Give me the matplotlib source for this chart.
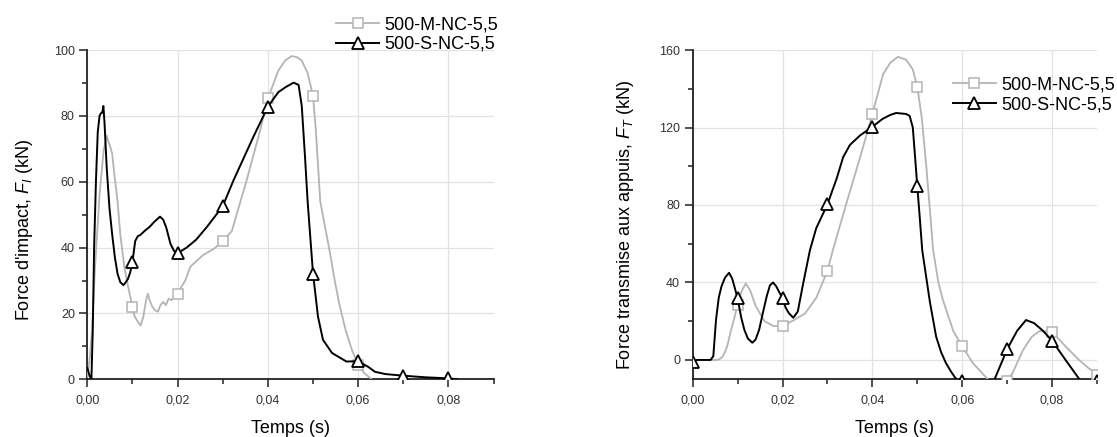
import numpy as np
import matplotlib
matplotlib.use('Agg')
from matplotlib import pyplot as plt
from matplotlib.ticker import MultipleLocator, FuncFormatter

plt.rcParams['font.family'] = ['Liberation Sans', 'DejaVu Sans']
plt.rcParams['mathtext.fontset'] = 'custom'
plt.rcParams['mathtext.rm'] = 'Liberation Sans'
plt.rcParams['mathtext.it'] = 'Liberation Sans:italic'

#%% Data
labels = ['500-M-NC-5,5', '500-S-NC-5,5']

# Force d'impact, 500-M-NC-5,5
t_imp_m = [0, 0.0005, 0.001, 0.0017, 0.0027, 0.0036, 0.0043, 0.0047, 0.005, 0.0055, 0.006, 0.0067,
           0.0073, 0.0082, 0.0092, 0.01, 0.0105, 0.0112, 0.0118, 0.0124, 0.013, 0.0134, 0.0138, 0.0144,
           0.015, 0.0156, 0.0162, 0.0168, 0.0174, 0.018, 0.0186, 0.0192, 0.02, 0.0208, 0.0217, 0.0228,
           0.0257, 0.0281, 0.03, 0.032, 0.0353, 0.0383, 0.04, 0.0423, 0.0438, 0.0453, 0.0465, 0.0475,
           0.0488, 0.05, 0.0506, 0.0516, 0.0527, 0.0538, 0.0548, 0.0558, 0.0572, 0.0586, 0.06, 0.0614,
           0.063]
f_imp_m = [0.8, 6, 14, 34, 56, 69.5, 74, 72, 71, 68.5, 62, 54,
           44, 34, 27, 22, 19, 17.5, 16.3, 19, 24, 26, 24, 22,
           21, 20.5, 22.5, 23.5, 22.5, 24.5, 24, 25, 26, 28, 30, 34.2,
           37.8, 39.7, 42, 45, 60.5, 75.7, 85.3, 93.7, 96.8, 98.2, 97.8, 96.8,
           93, 86, 76, 54, 46, 38, 30, 23, 15, 9, 4.3, 1.8,
           0]
mk_imp_m = [0.01, 0.02, 0.03, 0.04, 0.05, 0.06]

# Force d'impact, 500-S-NC-5,5
t_imp_s = [0, 0.0005, 0.0009, 0.0012, 0.0015, 0.0019, 0.0023, 0.0027, 0.003, 0.0033, 0.00355, 0.0038,
           0.0043, 0.0049, 0.0055, 0.0061, 0.0067, 0.0073, 0.008, 0.0085, 0.009, 0.0095, 0.01, 0.0106,
           0.0112, 0.0117, 0.0128, 0.0138, 0.0148, 0.0161, 0.0168, 0.0175, 0.0184, 0.0192, 0.02, 0.022,
           0.0241, 0.0265, 0.03, 0.0324, 0.0368, 0.04, 0.0423, 0.044, 0.0457, 0.0468, 0.0475, 0.0482,
           0.0488, 0.05, 0.0511, 0.0522, 0.0542, 0.0574, 0.06, 0.0622, 0.0637, 0.066, 0.07, 0.075,
           0.08, 0.082]
f_imp_s = [3.5, 1.0, 0.2, 15, 40, 60, 75, 80, 80.8, 81, 83, 78,
           64, 52, 44, 37, 32, 29.5, 28.6, 29.5, 30.5, 32.5, 35.7, 42,
           43.5, 43.8, 45.2, 46.3, 47.8, 49.4, 48.5, 46, 41.2, 39, 38.3, 40,
           42.4, 46.3, 52.6, 60.5, 73.7, 82.8, 87.2, 88.8, 90.1, 89.4, 83, 68,
           54, 32, 19, 12, 8, 5.4, 5.5, 3.8, 2.3, 1.6, 1.1, 0.6,
           0.3, 0]
mk_imp_s = [0.01, 0.02, 0.03, 0.04, 0.05, 0.06, 0.07, 0.08]

# Force transmise, 500-M-NC-5,5
t_tr_m = [0, 0.003, 0.0056, 0.006, 0.0066, 0.0072, 0.0078, 0.0085, 0.0092, 0.01, 0.0108, 0.0118,
          0.0128, 0.014, 0.016, 0.018, 0.02, 0.0225, 0.025, 0.0275, 0.03, 0.0312, 0.0342, 0.0372,
          0.04, 0.0424, 0.044, 0.0457, 0.0475, 0.049, 0.05, 0.051, 0.052, 0.053, 0.0535, 0.0547,
          0.0557, 0.058, 0.06, 0.0624, 0.0645, 0.0657, 0.067, 0.07, 0.0712, 0.0735, 0.0755, 0.0772,
          0.08, 0.083, 0.086, 0.088, 0.0898, 0.09]
f_tr_m = [0, 0, 0, 0.5, 1.5, 4, 8, 15, 21, 28.4, 35, 39.5,
          36, 28, 20, 17.5, 17.5, 20.5, 24, 32, 46, 56.6, 80.7, 104,
          127, 147.6, 153.5, 156.5, 155, 150, 141, 125, 100, 72, 57, 40,
          31, 15, 7, -1.7, -7, -10, -12, -11, -6.8, 5, 12, 14.9,
          14.6, 7, 0, -4, -6.8, -7.7]
mk_tr_m = [0.01, 0.02, 0.03, 0.04, 0.05, 0.06, 0.07, 0.08, 0.09]

# Force transmise, 500-S-NC-5,5
t_tr_s = [0, 0.001, 0.0025, 0.004, 0.0046, 0.0052, 0.0058, 0.0064, 0.0072, 0.0081, 0.0088, 0.0094,
          0.01, 0.0108, 0.0115, 0.0123, 0.0133, 0.014, 0.0148, 0.0156, 0.0165, 0.0172, 0.0179, 0.0186,
          0.02, 0.0207, 0.0214, 0.0224, 0.0234, 0.0246, 0.0261, 0.0275, 0.03, 0.0321, 0.0335, 0.035,
          0.0372, 0.04, 0.0423, 0.044, 0.0453, 0.0475, 0.0483, 0.049, 0.0495, 0.05, 0.0505, 0.0511,
          0.0528, 0.0542, 0.0553, 0.0564, 0.0575, 0.0587, 0.06, 0.063, 0.066, 0.0672, 0.07, 0.0722,
          0.0742, 0.076, 0.078, 0.08, 0.083, 0.0861, 0.088, 0.09]
f_tr_s = [-1, 0, 0, 0, 2, 20.7, 32, 37.9, 42.5, 45, 42, 37,
          31.8, 22, 15.6, 11, 8.9, 10.5, 15.6, 24, 33, 38.5, 40, 38,
          31.8, 27, 24.2, 21.8, 25, 39.5, 56.6, 68, 80.3, 94, 104.7, 111,
          115.8, 120.4, 124.5, 126.5, 127.5, 127, 126, 120, 105, 89.6, 75, 56.6,
          30, 12, 4, -1.7, -6, -10, -11, -14, -14, -10, 5.5, 15,
          20.6, 19, 15, 9.9, 0, -10, -13, -11]
mk_tr_s = [0.0, 0.01, 0.02, 0.03, 0.04, 0.05, 0.06, 0.07, 0.08, 0.09]

#%% Plot
grey = '#b4b4b4'
fig = plt.figure(figsize=(11.17, 4.37), dpi=100)
ax1 = fig.add_axes([0.0782, 0.1320, 0.3637, 0.7535])
ax2 = fig.add_axes([0.6201, 0.1320, 0.3620, 0.7535])


def marks(t, times):
	t = np.asarray(t)
	return [int(np.argmin(np.abs(t - m))) for m in times]


def draw(ax, tm, fm, mkm, ts, fs, mks):
	ax.plot(tm, fm, c=grey, lw=1.3, marker='s', ms=7, mfc='white', mec=grey, mew=1.1,
	        markevery=marks(tm, mkm), label=labels[0], zorder=3)
	ax.plot(ts, fs, c='black', lw=1.4, marker='^', ms=9, mfc='white', mec='black', mew=1.3,
	        markevery=marks(ts, mks), label=labels[1], zorder=4)


def style(ax, ylim, ymaj):
	ax.set_xlim(0, 0.09)
	ax.set_ylim(*ylim)
	ax.xaxis.set_major_locator(MultipleLocator(0.02))
	ax.xaxis.set_minor_locator(MultipleLocator(0.01))
	ax.yaxis.set_major_locator(MultipleLocator(ymaj))
	ax.yaxis.set_minor_locator(MultipleLocator(ymaj / 2))
	ax.xaxis.set_major_formatter(FuncFormatter(lambda v, p: '{:.2f}'.format(v).replace('.', ',')))
	ax.yaxis.set_major_formatter(FuncFormatter(lambda v, p: '{:.0f}'.format(v)))
	for s in ['top', 'right']:
		ax.spines[s].set_visible(False)
	for s in ['left', 'bottom']:
		ax.spines[s].set_linewidth(1.3)
		ax.spines[s].set_color('#222222')
	ax.tick_params(which='major', direction='out', length=6, width=1.1, color='#222222',
	               labelsize=9, labelcolor='#333333')
	ax.tick_params(axis='x', which='major', pad=5)
	ax.tick_params(axis='y', which='major', pad=3)
	ax.tick_params(which='minor', direction='out', length=3.5, width=1.1, color='#222222')
	ax.grid(True, which='major', color='#e2e2e2', lw=0.9, zorder=0)
	ax.set_axisbelow(True)
	ax.set_xlabel('Temps (s)', fontsize=13, labelpad=10)


draw(ax1, t_imp_m, f_imp_m, mk_imp_m, t_imp_s, f_imp_s, mk_imp_s)
style(ax1, (0, 100), 20)
ax1.set_ylabel("Force d'impact, $F_I$ (kN)", fontsize=13)
ax1.yaxis.set_label_coords(-0.13, 0.455)
ax1.legend(loc='center left', bbox_to_anchor=(0.612, 1.047), frameon=False, fontsize=13,
           handlelength=2.4, handletextpad=0.3, labelspacing=0.15, borderpad=0, borderaxespad=0)

draw(ax2, t_tr_m, f_tr_m, mk_tr_m, t_tr_s, f_tr_s, mk_tr_s)
style(ax2, (-10, 160), 40)
ax2.set_ylabel('Force transmise aux appuis, $F_T$ (kN)', fontsize=13)
ax2.yaxis.set_label_coords(-0.14, 0.47)
ax2.legend(loc='center left', bbox_to_anchor=(0.643, 0.863), frameon=False, fontsize=13,
           handlelength=2.4, handletextpad=0.3, labelspacing=0.15, borderpad=0, borderaxespad=0)

fig.savefig('out.png', dpi=100)
